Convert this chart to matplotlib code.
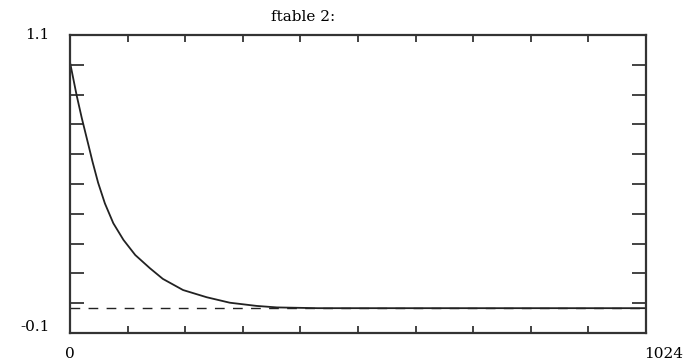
import matplotlib
matplotlib.use("Agg")
import matplotlib.pyplot as plt
import numpy as np

# ftable 2 — sample index vs value
table_idx = [0, 12, 21, 27, 33, 40, 50, 62, 77, 95, 116, 142, 165, 201, 243, 284,
             332, 368, 440, 1024]
table_val = [0.99, 0.855, 0.765, 0.71, 0.655, 0.59, 0.505, 0.422, 0.342, 0.275,
             0.214, 0.161, 0.118, 0.073, 0.044, 0.022, 0.009, 0.003, 0.0, 0.0]

TITLE = "ftable 2:"
X_LIMITS = (0, 1024)
Y_LIMITS = (-0.1, 1.1)
X_LABELS = ["0", "1024"]
Y_LABELS = ["1.1", "-0.1"]

FONT = "DejaVu Serif"
FSIZE = 11
INK = "#222222"


def main() -> None:
    fig = plt.figure(figsize=(6.86, 3.62), dpi=100)
    ax = fig.add_axes([70 / 686, 29 / 362, 576 / 686, 298 / 362])

    # zero line, dashed, under the curve
    ax.axhline(0, color=INK, lw=1.0, ls=(0, (7, 6)))
    ax.plot(table_idx, table_val, color=INK, lw=1.3)

    ax.set_xlim(*X_LIMITS)
    ax.set_ylim(*Y_LIMITS)

    ax.set_xticks(np.linspace(*X_LIMITS, 11)[1:-1])
    ax.set_yticks(np.linspace(*Y_LIMITS, 11)[1:-1])
    ax.tick_params(axis="x", direction="in", length=5, width=1.2, color=INK,
                   top=True, labelbottom=False)
    ax.tick_params(axis="y", direction="in", length=10, width=1.2, color=INK,
                   right=True, labelleft=False)
    for sp in ax.spines.values():
        sp.set_color("#333333")
        sp.set_linewidth(1.6)

    # end labels sit off the corners, not on ticks
    tf = ax.transAxes
    ax.text(-0.035, 1.0, Y_LABELS[0], transform=tf, ha="right", va="center",
            family=FONT, fontsize=FSIZE)
    ax.text(-0.035, 0.02, Y_LABELS[1], transform=tf, ha="right", va="center",
            family=FONT, fontsize=FSIZE)
    ax.text(0.0, -0.07, X_LABELS[0], transform=tf, ha="center", va="center",
            family=FONT, fontsize=FSIZE)
    ax.text(1.03, -0.07, X_LABELS[1], transform=tf, ha="center", va="center",
            family=FONT, fontsize=FSIZE)

    fig.text(303 / 686, 1 - 17 / 362, TITLE, ha="center", va="center",
             family=FONT, fontsize=FSIZE)

    fig.savefig("out.png", dpi=100)


if __name__ == "__main__":
    main()
